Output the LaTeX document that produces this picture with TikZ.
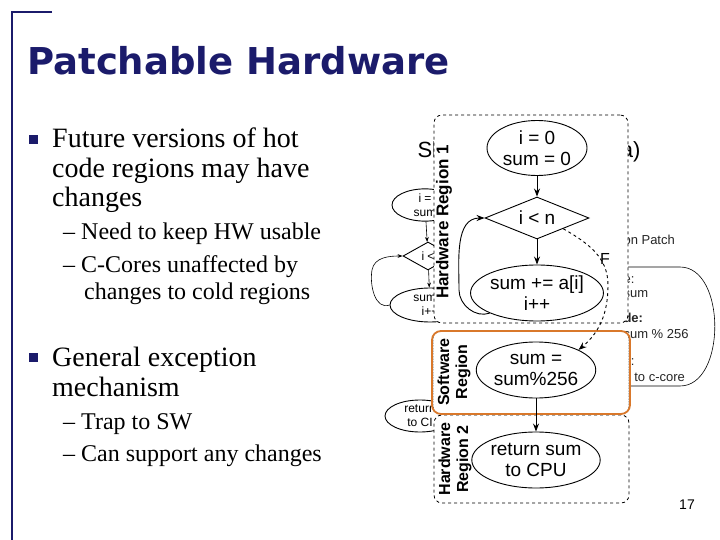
\documentclass[tikz,border=0pt]{standalone}
\usepackage{fontspec}
\setmainfont{Liberation Serif}
\setsansfont{Liberation Sans}
\newfontfamily\titlefont{DejaVu Sans}
\usetikzlibrary{shapes.geometric,arrows.meta}
\definecolor{navy}{HTML}{1B1B6B}
\definecolor{orng}{HTML}{D9782B}
\tikzset{
  el/.style={draw,ellipse,line width=0.9pt,font=\sffamily\fontsize{19}{21}\selectfont,align=center,inner sep=0pt,fill=white},
  dia/.style={draw,diamond,aspect=2.5,line width=0.9pt,font=\sffamily\fontsize{19}{21}\selectfont,inner sep=1pt,fill=white},
  reg/.style={draw,dashed,rounded corners=8pt,line width=0.8pt,fill=white},
  rl/.style={rotate=90,font=\sffamily\bfseries\fontsize{16}{18}\selectfont,align=center},
  arr/.style={-{Stealth[length=8pt,width=6pt]},line width=0.9pt},
  bg/.style={font=\sffamily\fontsize{13}{15}\selectfont,text=black!85},
  bul/.style={anchor=base west,font=\fontsize{28}{29}\selectfont,align=left,inner sep=0pt},
  sub/.style={anchor=base west,font=\fontsize{24}{26}\selectfont,align=left,inner sep=0pt}
}
\begin{document}
\begin{tikzpicture}[x=1pt,y=-1pt]
\useasboundingbox (0,0) rectangle (720,540);
\fill[white] (0,0) rectangle (720,540);
\draw[navy,line width=1.2pt] (52,12) -- (12,12) -- (12,540);
\node[anchor=base west,text=navy,font=\titlefont\bfseries\fontsize{37}{40}\selectfont,inner sep=0pt] (title) at (27,75) {Patchable Hardware};
% bullets
\fill[navy] (29,135) rectangle (38,144);
\node[bul] (b1) at (52,148) {Future versions of hot};
\node[bul] (b1b) at (52,178) {code regions may have};
\node[bul] (b1c) at (52,207) {changes};
\node[sub] (s1) at (63,240) {–\hspace{6pt}Need to keep HW usable};
\node[sub] (s2) at (63,272) {–\hspace{6pt}C-Cores unaffected by};
\node[sub] (s2b) at (84,299) {changes to cold regions};
\fill[navy] (29,353) rectangle (38,362);
\node[bul] (b2) at (52,366) {General exception};
\node[bul] (b2b) at (52,396) {mechanism};
\node[sub] (s3) at (63,429) {–\hspace{6pt}Trap to SW};
\node[sub] (s4) at (63,461) {–\hspace{6pt}Can support any changes};
\node[anchor=base,font=\sffamily\fontsize{14}{16}\selectfont] (pg) at (687,509) {17};
% background fragments
\node[anchor=base west,font=\sffamily\fontsize{22}{24}\selectfont] (f1) at (414,158) {Sl};
\node[anchor=base west,font=\sffamily\fontsize{22}{24}\selectfont] (f2) at (610,158) {(a)};
\node[bg,anchor=base west] (f3) at (620,244) {on Patch};
\node[bg,anchor=base west] (f4) at (620,283) {e:};
\node[bg,anchor=base west] (f5) at (620,297) {sum};
\node[bg,anchor=base west,font=\sffamily\bfseries\fontsize{13}{15}\selectfont] (f6) at (620,322) {de:};
\node[bg,anchor=base west] (f7) at (620,338) {sum \% 256};
\node[bg,anchor=base west] (f8) at (620,365) {e:};
\node[bg,anchor=base west] (f9) at (620,381) {n to c-core};
\draw[line width=0.6pt] (620,267) -- (680,267) to[out=0,in=0] (680,386) -- (620,386);
\node[el,font=\sffamily\fontsize{12}{14}\selectfont,minimum width=66pt,minimum height=32pt] (le1) at (425,205) {i =\\sum};
\node[dia,font=\sffamily\fontsize{12}{14}\selectfont,minimum width=50pt,minimum height=28pt] (ld) at (428,256) {i <};
\node[el,font=\sffamily\fontsize{12}{14}\selectfont,minimum width=80pt,minimum height=34pt] (le2) at (430,305) {sum +\\i++};
\draw[line width=0.6pt,-{Stealth[length=5pt]}] (le1) -- (ld);
\draw[line width=0.6pt,-{Stealth[length=5pt]}] (ld) -- (le2);
\draw[line width=0.6pt,-{Stealth[length=5pt]}] (le2.west) to[out=200,in=260] (372,270) to[out=80,in=180] (ld.west);
\node[el,font=\sffamily\fontsize{12}{14}\selectfont,minimum width=70pt,minimum height=32pt] (le3) at (420,416) {return\\to CI};
% main regions
\node[reg,minimum width=194pt,minimum height=208pt] (hw1) at (531,219) {};
\node[reg,minimum width=195pt,minimum height=88pt] (hw2) at (531.5,459) {};
\node[draw,densely dotted,fill=white,rounded corners=8pt,minimum width=196pt,minimum height=83pt,line width=0.6pt] (swin) at (531,372.5) {};
\node[draw=orng,rounded corners=9pt,minimum width=198pt,minimum height=83pt,line width=1.8pt] (sw) at (531,372.5) {};
\node[rl,font=\sffamily\bfseries\fontsize{17}{19}\selectfont] (l1) at (444,222) {Hardware Region 1};
\node[rl] (l2) at (454,372) {Software\\Region};
\node[rl] (l3) at (455,459) {Hardware\\Region 2};
% nodes
\node[el,minimum width=100pt,minimum height=55pt] (n1) at (537,148) {i = 0\\sum = 0};
\node[dia,minimum width=104pt,minimum height=42pt] (n2) at (537,218) {i < n};
\node[el,minimum width=130pt,minimum height=56pt] (n3) at (537,293) {sum += a[i]\\i++};
\node[el,minimum width=116pt,minimum height=56pt] (n4) at (536,370) {sum =\\sum\%256};
\node[el,minimum width=116pt,minimum height=56pt] (n5) at (536,460) {return sum\\to CPU};
\draw[arr] (n1) -- (n2);
\draw[arr] (n2) -- (n3);
\draw[arr] (n4) -- (n5);
\draw[arr] (n3.south west) to[out=200,in=-90] (459,290) to[out=90,in=180] (n2.west);
\draw[arr,dashed] (n2.south east) to[out=-30,in=90] (608,285) to[out=-90,in=40] (n4.north east);
\node[font=\sffamily\fontsize{16}{18}\selectfont] (F) at (605,259) {F};
\end{tikzpicture}
\end{document}
